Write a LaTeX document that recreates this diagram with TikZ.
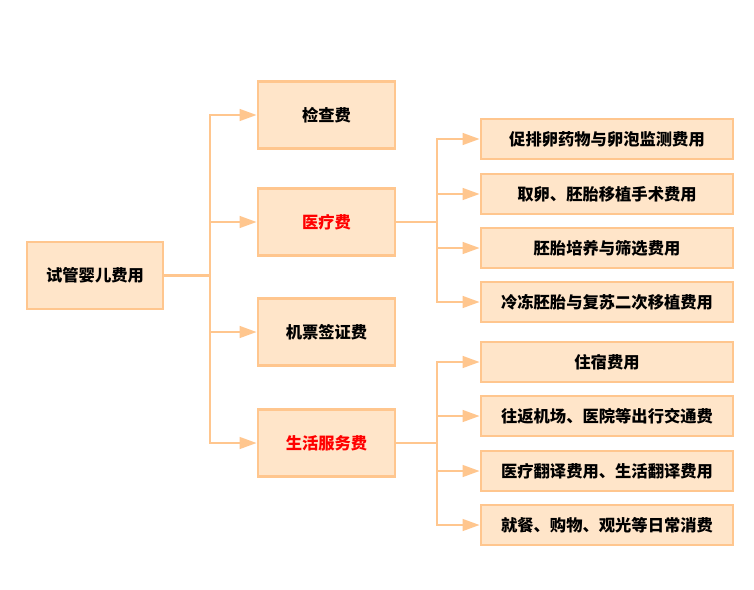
\documentclass[tikz,border=0pt]{standalone}
\usepackage{fontspec}
\setmainfont{Noto Sans CJK SC}
\usetikzlibrary{arrows.meta}
\definecolor{boxfill}{HTML}{FFE5C9}
\definecolor{boxline}{HTML}{FFC68E}
\definecolor{redtxt}{HTML}{FF0000}
\tikzset{
  box/.style={draw=boxline, fill=boxfill, line width=2.6pt, inner sep=0pt,
    font=\fontsize{16.3}{19}\selectfont\bfseries, text=black},
  rootbox/.style={box, minimum width=136pt, minimum height=67pt},
  midbox/.style={box, minimum width=137pt, minimum height=67pt},
  leafbox/.style={box, minimum width=252pt, minimum height=40pt},
  conn/.style={draw=boxline, line width=2.6pt},
  arr/.style={conn, -{Triangle[length=17pt,width=11.5pt]}},
}
\begin{document}
\begin{tikzpicture}[x=1pt,y=-1pt]
\useasboundingbox[fill=white] (0,0) rectangle (754,589);
\node[rootbox] (root) at (95,275.5) {试管婴儿费用};
\node[midbox] (m1) at (326.5,115) {检查费};
\node[midbox,text=redtxt] (m2) at (326.5,222) {医疗费};
\node[midbox] (m3) at (326.5,332) {机票签证费};
\node[midbox,text=redtxt] (m4) at (326.5,443) {生活服务费};
\node[leafbox] (a1) at (607,139) {促排卵药物与卵泡监测费用};
\node[leafbox] (a2) at (607,194) {取卵、胚胎移植手术费用};
\node[leafbox] (a3) at (607,248) {胚胎培养与筛选费用};
\node[leafbox] (a4) at (607,302) {冷冻胚胎与复苏二次移植费用};
\node[leafbox] (b1) at (607,362) {住宿费用};
\node[leafbox] (b2) at (607,416) {往返机场、医院等出行交通费};
\node[leafbox] (b3) at (607,471) {医疗翻译费用、生活翻译费用};
\node[leafbox] (b4) at (607,525) {就餐、购物、观光等日常消费};
\coordinate (t1) at (210,275.5);
\coordinate (t2) at (437,222);
\coordinate (t3) at (437,443);
\draw[conn] (root.east) -- (t1);
\draw[conn] (m2.east) -- (t2);
\draw[conn] (m4.east) -- (t3);
\foreach \n in {m1,m2,m3,m4} \draw[arr] (t1) |- (\n.west);
\foreach \n in {a1,a2,a3,a4} \draw[arr] (t2) |- (\n.west);
\foreach \n in {b1,b2,b3,b4} \draw[arr] (t3) |- (\n.west);
\end{tikzpicture}
\end{document}
